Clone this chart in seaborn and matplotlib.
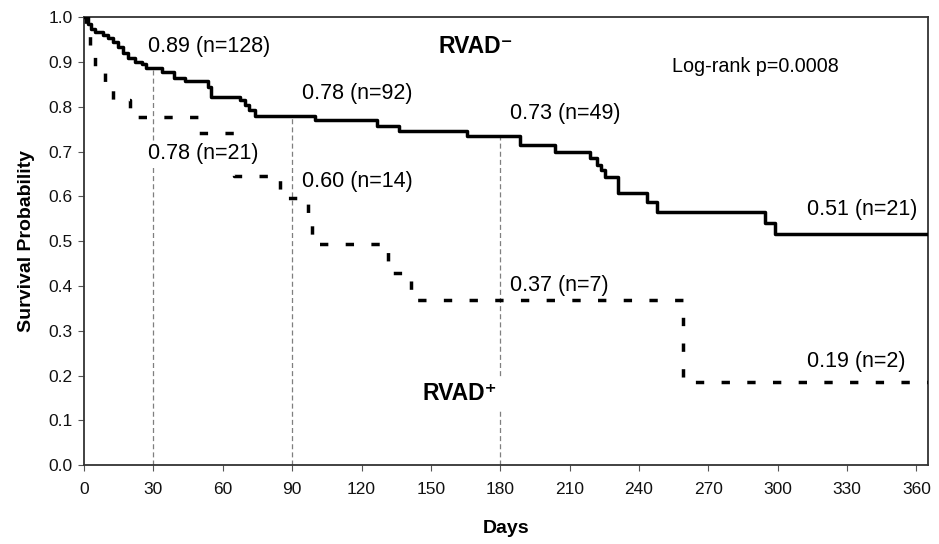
import numpy as np
import pandas as pd
import seaborn as sns
import matplotlib.pyplot as plt

# Kaplan-Meier steps (drawn as steps-post)
rvad_neg_days = [0, 1.5, 3, 4.8, 8.4, 10.5, 12.7, 14.9, 17, 19.2,
                 22, 25, 27, 33.6, 38.7, 43.7, 53.8, 55, 67.5, 69.5,
                 71.5, 74, 100, 126.6, 136, 165.6, 188.7, 203.8, 219, 221.8,
                 223.5, 225.4, 231, 243.5, 247.8, 294.7, 299, 365]
rvad_neg_surv = [1.0, 0.985, 0.975, 0.968, 0.961, 0.953, 0.946, 0.935, 0.920, 0.909,
                 0.901, 0.897, 0.886, 0.879, 0.864, 0.857, 0.845, 0.823, 0.816, 0.804,
                 0.793, 0.780, 0.771, 0.758, 0.746, 0.734, 0.714, 0.700, 0.685, 0.671,
                 0.659, 0.644, 0.608, 0.588, 0.566, 0.541, 0.516, 0.516]

rvad_pos_days = [0, 1, 2.6, 4.8, 9.1, 12.7, 19.9, 49.5, 65, 84.8, 97, 98.5, 131.5, 141.5, 259, 365]
rvad_pos_surv = [1.0, 0.963, 0.926, 0.889, 0.852, 0.815, 0.778, 0.741, 0.646, 0.597,
                 0.549, 0.494, 0.43, 0.369, 0.185, 0.185]

# landmark days with dotted guide lines
ref_days = [30, 90, 180]

# annotations: (text, day, prob)
labels_neg = [("0.89 (n=128)", 27.8, 0.935), ("0.78 (n=92)", 94.2, 0.831),
              ("0.73 (n=49)", 184.3, 0.786), ("0.51 (n=21)", 312.7, 0.570)]
labels_pos = [("0.78 (n=21)", 27.8, 0.697), ("0.60 (n=14)", 94.2, 0.633),
              ("0.37 (n=7)", 184.3, 0.402), ("0.19 (n=2)", 312.7, 0.231)]

x_ticks = list(range(0, 361, 30))
y_ticks = [0.0, 0.1, 0.2, 0.3, 0.4, 0.5, 0.6, 0.7, 0.8, 0.9, 1.0]

df = pd.concat([
    pd.DataFrame({'Days': rvad_neg_days, 'Survival': rvad_neg_surv, 'group': 'RVAD-'}),
    pd.DataFrame({'Days': rvad_pos_days, 'Survival': rvad_pos_surv, 'group': 'RVAD+'}),
])

sns.set_style('white')
plt.rcParams['font.family'] = ['Liberation Sans', 'DejaVu Sans']
plt.rcParams['text.color'] = 'black'
plt.rcParams['axes.labelcolor'] = 'black'
plt.rcParams['xtick.labelcolor'] = '#111111'
plt.rcParams['ytick.labelcolor'] = '#111111'

fig, ax = plt.subplots(figsize=(9.39, 5.44), dpi=100)
fig.subplots_adjust(left=0.0895, right=0.9883, top=0.968, bottom=0.145)

sns.lineplot(data=df, x='Days', y='Survival', hue='group', style='group',
             palette={'RVAD-': 'black', 'RVAD+': 'black'},
             dashes={'RVAD-': '', 'RVAD+': (2.4, 5.0)},
             estimator=None, sort=False, drawstyle='steps-post',
             linewidth=2.5, legend=False, ax=ax, zorder=3)

# dotted guide lines from the axis up to the RVAD- curve
neg_d = np.array(rvad_neg_days)
neg_s = np.array(rvad_neg_surv)
ref_top = [neg_s[np.searchsorted(neg_d, d, side='right') - 1] for d in ref_days]
ax.vlines(ref_days, 0, ref_top, colors='#7f7f7f', linewidth=0.9,
          linestyles=(0, (4, 2.5)), zorder=2)

for txt, x, y in labels_neg:
    ax.text(x, y, txt, fontsize=15.5, va='center', ha='left', zorder=4)
for txt, x, y in labels_pos:
    if txt.startswith("0.78"):
        ax.text(x, y, txt, fontsize=15.5, va='center', ha='left', zorder=4,
                bbox=dict(facecolor='white', edgecolor='none', pad=1))
    else:
        ax.text(x, y, txt, fontsize=15.5, va='center', ha='left', zorder=4)

ax.text(169.6, 0.934, "RVAD\u207b", fontsize=16.5, fontweight='bold', ha='center', va='center')
ax.text(162.7, 0.161, "RVAD\u207a", fontsize=16.5, fontweight='bold', ha='center', va='center',
        zorder=4, bbox=dict(facecolor='white', edgecolor='none', pad=3))
ax.text(254.4, 0.890, "Log-rank p=0.0008", fontsize=14.2, ha='left', va='center')

ax.set_xlim(0, 365)
ax.set_ylim(0, 1.0)
ax.set_xticks(x_ticks)
ax.set_yticks(y_ticks)
ax.set_yticklabels([f"{v:.1f}" for v in y_ticks])
ax.tick_params(axis='both', direction='out', length=4, width=0.8, color='#555555',
               labelsize=12.5, pad=4, bottom=True, left=True)
ax.tick_params(axis='x', pad=8)

ax.set_xlabel("Days", fontsize=14, fontweight='bold', labelpad=17)
ax.set_ylabel("Survival Probability", fontsize=14, fontweight='bold', labelpad=10)

for sp in ax.spines.values():
    sp.set_color('#333333')
    sp.set_linewidth(1.3)

fig.savefig('out.png', dpi=100)
